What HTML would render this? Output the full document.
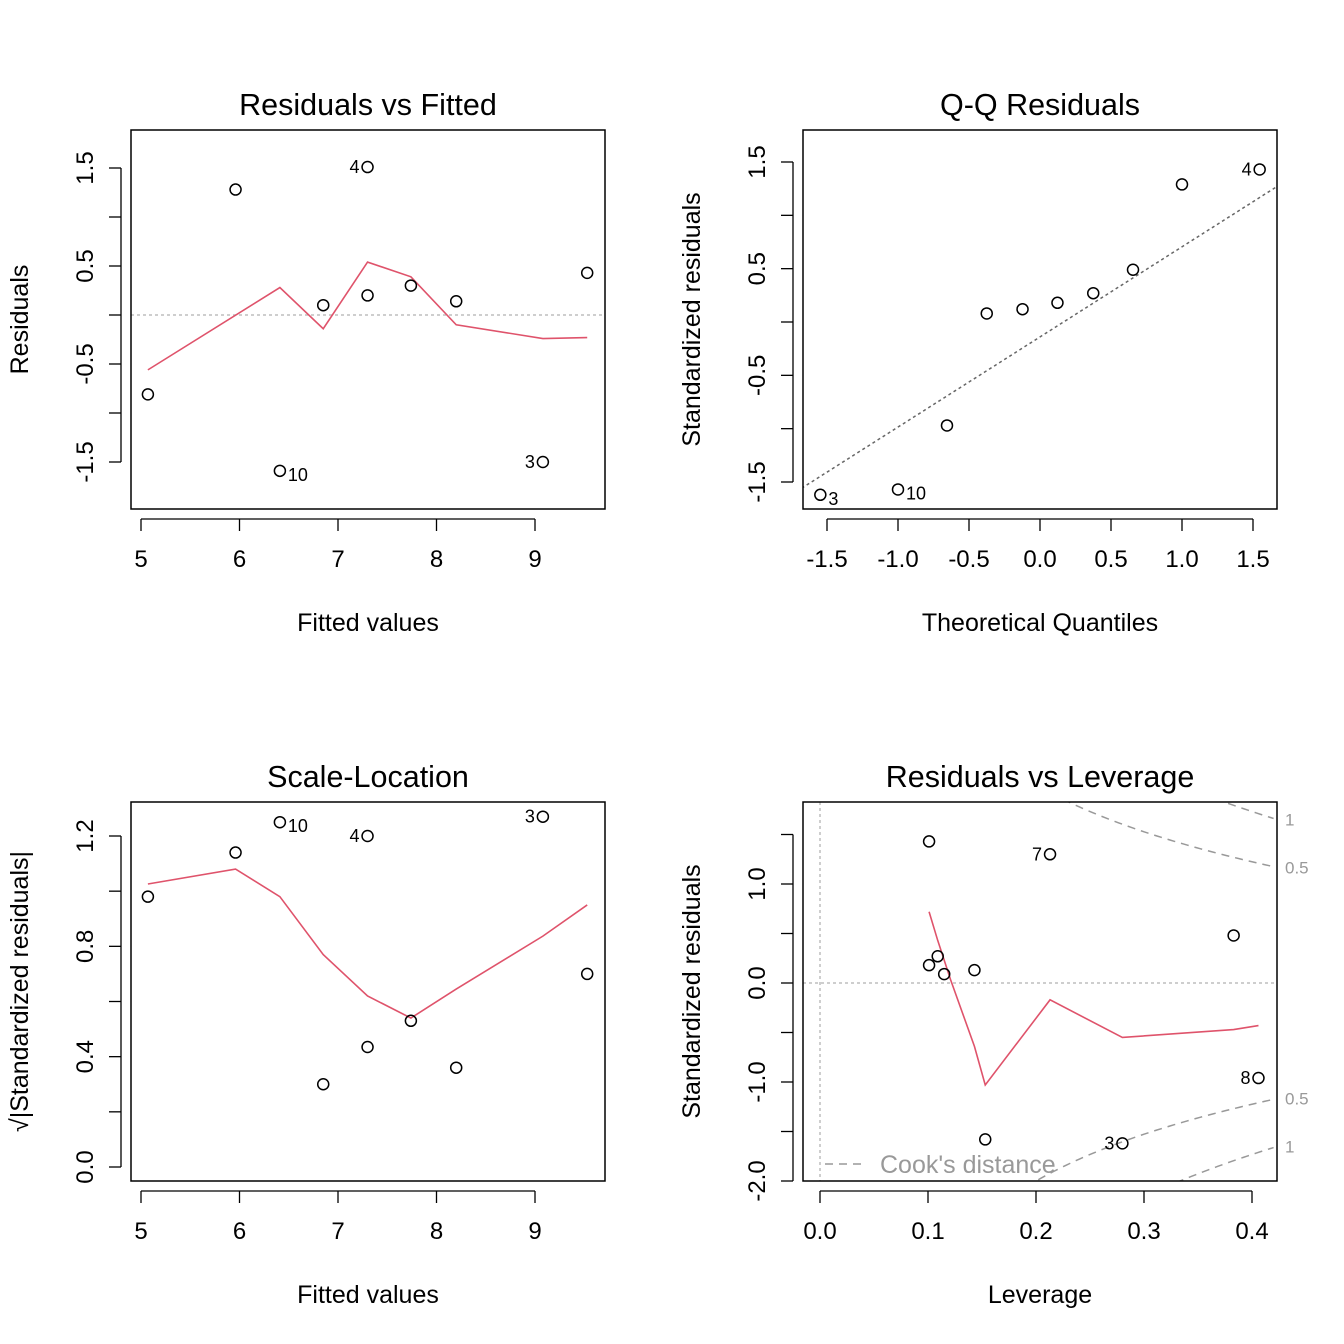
<!DOCTYPE html>
<html><head><meta charset="utf-8"><style>
html,body{margin:0;padding:0;background:#fff;width:1344px;height:1344px;overflow:hidden}
svg{display:block;overflow:hidden}
text{font-family:"Liberation Sans",Arial,sans-serif;fill:#000}
</style></head><body>
<svg id="c" width="1344" height="1344" xmlns="http://www.w3.org/2000/svg"></svg>
<script>
// Panel 1: Residuals vs Fitted
const rfFitted=[5.07,5.96,6.41,6.85,7.30,7.30,7.74,8.20,9.08,9.53];
const rfResid=[-0.81,1.28,-1.59,0.10,1.51,0.20,0.30,0.14,-1.50,0.43];
const rfLabels=["","","10","","4","","","","3",""];
const rfSmoothX=[5.07,6.41,6.85,7.30,7.74,8.20,9.08,9.53];
const rfSmoothY=[-0.56,0.28,-0.14,0.54,0.39,-0.10,-0.24,-0.23];
// Panel 2: Q-Q
const qqTheo=[-1.547,-1.0,-0.655,-0.375,-0.123,0.123,0.375,0.655,1.0,1.547];
const qqStd=[-1.62,-1.57,-0.97,0.08,0.12,0.18,0.27,0.49,1.29,1.43];
const qqLabels=["3","10","","","","","","","","4"];
const qqLine=[-0.14,0.845]; // intercept, slope
// Panel 3: Scale-Location
const slFitted=[5.07,5.96,6.41,6.85,7.30,7.30,7.74,8.20,9.08,9.53];
const slSqrt=[0.98,1.14,1.25,0.30,1.20,0.435,0.53,0.36,1.27,0.70];
const slLabels=["","","10","","4","","","","3",""];
const slSmoothX=[5.07,5.96,6.41,6.85,7.30,7.74,8.20,9.08,9.53];
const slSmoothY=[1.026,1.08,0.98,0.77,0.62,0.54,0.645,0.837,0.95];
// Panel 4: Residuals vs Leverage
const lvH=[0.101,0.109,0.101,0.115,0.143,0.153,0.213,0.280,0.383,0.406];
const lvStd=[1.43,0.27,0.18,0.09,0.13,-1.58,1.30,-1.62,0.48,-0.96];
const lvLabels=["","","","","","","7","3","","8"];
const lvSmoothX=[0.101,0.109,0.121,0.143,0.153,0.213,0.280,0.383,0.406];
const lvSmoothY=[0.72,0.43,0.03,-0.64,-1.03,-0.17,-0.55,-0.47,-0.43];
const cookLevels=[0.5,1];
const nParams=2;

const svg=document.getElementById('c');
const NS='http://www.w3.org/2000/svg';
function mk(tag,attrs,parent,text){const e=document.createElementNS(NS,tag);for(const k in attrs)e.setAttribute(k,attrs[k]);if(text!==undefined)e.textContent=text;(parent||svg).appendChild(e);return e;}
function lin(d0,d1,p0,p1){return v=>p0+(v-d0)*(p1-p0)/(d1-d0);}

function panel(o){
  const g=mk('g',{});
  
  
  const L=o.box[0],T=o.box[1],R=o.box[2],B=o.box[3];
  const sx=o.sx,sy=o.sy;
  const clipId='clip'+o.id;
  const cp=mk('clipPath',{id:clipId},g);mk('rect',{x:L,y:T,width:R-L,height:B-T},cp);
  const t=mk('text',{x:(L+R)/2,y:T-15,'font-size':30.5,'text-anchor':'middle'},g,o.title);
  
  const xa=mk('g',{},g);
  mk('line',{x1:sx(o.xt[0]),x2:sx(o.xt[o.xt.length-1]),y1:B+10,y2:B+10,stroke:'#000','stroke-width':1.3},xa);
  o.xt.forEach((v,i)=>{mk('line',{x1:sx(v),x2:sx(v),y1:B+10,y2:B+22,stroke:'#000','stroke-width':1.3},xa);
    const lt=mk('text',{x:sx(v),y:B+58,'font-size':24,'text-anchor':'middle'},xa,o.xl[i]);
    });
  const xt=mk('text',{x:(L+R)/2,y:B+122,'font-size':25,'text-anchor':'middle'},g,o.xlab);
  
  const ya=mk('g',{},g);
  mk('line',{x1:L-10,x2:L-10,y1:sy(o.yt[0]),y2:sy(o.yt[o.yt.length-1]),stroke:'#000','stroke-width':1.3},ya);
  o.yt.forEach((v,i)=>{mk('line',{x1:L-22,x2:L-10,y1:sy(v),y2:sy(v),stroke:'#000','stroke-width':1.3},ya);
    if(o.yl[i]){const lt=mk('text',{x:0,y:0,'font-size':24,'text-anchor':'middle',transform:`translate(${L-38},${sy(v)}) rotate(-90)`},ya,o.yl[i]);
    }});
  const yt=mk('text',{x:0,y:0,'font-size':25,'text-anchor':'middle',transform:`translate(${L-103},${(T+B)/2}) rotate(-90)`},g,o.ylab);
  
  const inner=mk('g',{'clip-path':`url(#${clipId})`},g);
  o.extra&&o.extra(inner,sx,sy,g);
  if(o.lx){const pl=mk('polyline',{points:o.lx.map((v,i)=>sx(v)+','+sy(o.ly[i])).join(' '),fill:'none',stroke:'#DF536B','stroke-width':1.6},inner);
    }
  o.px.forEach((v,i)=>{const c=mk('circle',{cx:sx(v),cy:sy(o.py[i]),r:5.5,fill:'none',stroke:'#000','stroke-width':1.5},g);
    
    const lb=o.lab[i];if(lb){const left=o.leftLab&&o.leftLab(i);
      const tx=mk('text',{x:sx(v)+(left?-8:8),y:sy(o.py[i])+(left?6:10),'font-size':18,'text-anchor':left?'end':'start'},g,lb);
      }});
  const fr=mk('rect',{x:L,y:T,width:R-L,height:B-T,fill:'none',stroke:'#000','stroke-width':1.5},g);
  
}

panel({id:1,name:'residuals-vs-fitted-panel',box:[131,130,605,509],title:'Residuals vs Fitted',
 sx:lin(5,9,141,535),sy:lin(1.5,-1.5,168,462),
 xt:[5,6,7,8,9],xl:['5','6','7','8','9'],yt:[-1.5,-1,-0.5,0,0.5,1,1.5],yl:['-1.5','','-0.5','','0.5','','1.5'],
 xlab:'Fitted values',ylab:'Residuals',px:rfFitted,py:rfResid,lab:rfLabels,lx:rfSmoothX,ly:rfSmoothY,
 leftLab:i=>rfLabels[i]==='4'||rfLabels[i]==='3',
 extra:(g,sx,sy)=>{const l=mk('line',{x1:131,x2:605,y1:sy(0),y2:sy(0),stroke:'#bebebe','stroke-width':1.5,'stroke-dasharray':'3,3'},g);}});

panel({id:2,name:'qq-residuals-panel',box:[803,130,1277,509],title:'Q-Q Residuals',
 sx:lin(-1.5,1.5,827,1253),sy:lin(1.5,-1.5,162,482),
 xt:[-1.5,-1,-0.5,0,0.5,1,1.5],xl:['-1.5','-1.0','-0.5','0.0','0.5','1.0','1.5'],yt:[-1.5,-1,-0.5,0,0.5,1,1.5],yl:['-1.5','','-0.5','','0.5','','1.5'],
 xlab:'Theoretical Quantiles',ylab:'Standardized residuals',px:qqTheo,py:qqStd,lab:qqLabels,
 leftLab:i=>qqLabels[i]==='4',
 extra:(g,sx,sy)=>{const a=-2,b=2;const l=mk('line',{x1:sx(a),x2:sx(b),y1:sy(qqLine[0]+qqLine[1]*a),y2:sy(qqLine[0]+qqLine[1]*b),stroke:'#666','stroke-width':1.5,'stroke-dasharray':'3,3'},g);}});

panel({id:3,name:'scale-location-panel',box:[131,802,605,1181],title:'Scale-Location',
 sx:lin(5,9,141,535),sy:lin(0,1.2,1167,836),
 xt:[5,6,7,8,9],xl:['5','6','7','8','9'],yt:[0,0.2,0.4,0.6,0.8,1.0,1.2],yl:['0.0','','0.4','','0.8','','1.2'],
 xlab:'Fitted values',ylab:'√|Standardized residuals|',px:slFitted,py:slSqrt,lab:slLabels,lx:slSmoothX,ly:slSmoothY,
 leftLab:i=>slLabels[i]==='4'||slLabels[i]==='3'});

panel({id:4,name:'residuals-vs-leverage-panel',box:[803,802,1277,1181],title:'Residuals vs Leverage',
 sx:lin(0,0.4,820,1252),sy:lin(1,-2,884,1181),
 xt:[0,0.1,0.2,0.3,0.4],xl:['0.0','0.1','0.2','0.3','0.4'],yt:[-2,-1.5,-1,-0.5,0,0.5,1,1.5],yl:['-2.0','','-1.0','','0.0','','1.0',''],
 xlab:'Leverage',ylab:'Standardized residuals',px:lvH,py:lvStd,lab:lvLabels,lx:lvSmoothX,ly:lvSmoothY,
 leftLab:i=>true,
 extra:(g,sx,sy,outer)=>{
  let l=mk('line',{x1:803,x2:1277,y1:sy(0),y2:sy(0),stroke:'#bebebe','stroke-width':1.5,'stroke-dasharray':'3,3'},g);
  l=mk('line',{x1:sx(0),x2:sx(0),y1:802,y2:1181,stroke:'#bebebe','stroke-width':1.5,'stroke-dasharray':'3,3'},g);
  const hMax=(1277-820)/1080;
  cookLevels.forEach(c=>{[1,-1].forEach(s=>{const pts=[];for(let h=0.02;h<=hMax+1e-9;h+=0.004){pts.push(sx(h)+','+sy(s*Math.sqrt(c*nParams*(1-h)/h)));}
    const p=mk('polyline',{points:pts.join(' '),fill:'none',stroke:'#999','stroke-width':1.5,'stroke-dasharray':'8,6'},g);
    const yv=s*Math.sqrt(c*nParams*(1-hMax)/hMax);
    const t=mk('text',{x:1285,y:sy(yv)+6,'font-size':17,style:'fill:#999'},outer,String(c));});});
  const lg=mk('g',{},outer);
  mk('line',{x1:825,x2:867,y1:1164,y2:1164,stroke:'#999','stroke-width':1.5,'stroke-dasharray':'8,6'},lg);
  mk('text',{x:880,y:1173,'font-size':25,style:'fill:#999'},lg,"Cook's distance");
 }});
</script>
</body></html>
